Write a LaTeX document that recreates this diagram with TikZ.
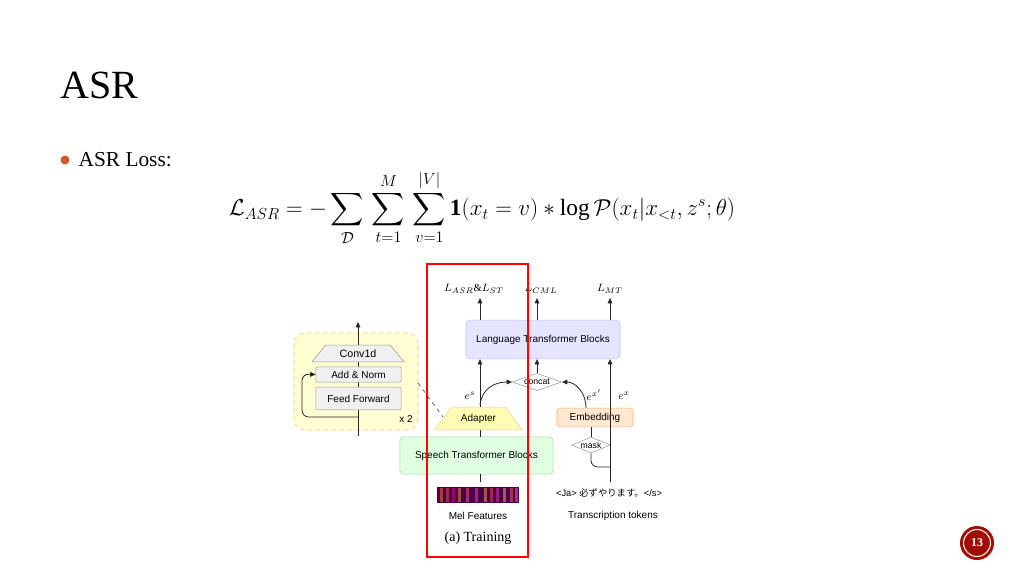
\documentclass[tikz,border=0pt]{standalone}
\usepackage{amsmath}
\usepackage{fontspec}
\setmainfont{Liberation Serif}
\newfontfamily\dsans{Liberation Sans}
\newfontfamily\cjk{Noto Sans CJK JP}
\usetikzlibrary{shapes.geometric,arrows.meta}
\begin{document}
\begin{tikzpicture}[x=0.75pt,y=-0.75pt,
  lbl/.style={font=\dsans\fontsize{7.5}{9}\selectfont},
  blk/.style={draw=gray!70,rounded corners=3pt,lbl,inner sep=0pt},
  gbox/.style={draw=gray!80,fill=gray!12,lbl,inner sep=0pt,rounded corners=1pt},
  ln/.style={draw=black!85,line width=0.6pt},
  arr/.style={ln,-{Triangle[length=4pt,width=3.5pt]}},
  dia/.style={diamond,draw=gray!80,fill=white,inner sep=0pt,aspect=2.8,font=\dsans\fontsize{6.5}{8}\selectfont},
  ml/.style={font=\fontsize{8}{10}\selectfont}]
\useasboundingbox (0,0) rectangle (1024,576);
\fill[white] (0,0) rectangle (1024,576);
% title
\node[anchor=west,font=\fontsize{30}{34}\selectfont] (title) at (56,85) {ASR};
\fill[brown!70!red] (65,160) circle (4.5);
\node[anchor=west,font=\fontsize{16}{19}\selectfont] (bul) at (74,160) {ASR Loss:};
\node[font=\fontsize{17.5}{21}\selectfont,inner sep=0pt] (eq) at (482,208) {$\displaystyle \mathcal{L}_{ASR}=-\sum_{\mathcal{D}}\,\sum_{t=1}^{M}\,\sum_{v=1}^{|V|}\mathbf{1}(x_t=v)*\log\mathcal{P}(x_t|x_{<t},z^s;\theta)$};
% yellow box
\draw[dashed,draw=orange!50,fill=yellow!18,rounded corners=8pt] (294,333) rectangle (418,430);
\node[lbl] (x2) at (406,419) {x 2};
\coordinate (ybot) at (358,436);
\coordinate (ytop) at (358,322);
\draw[arr] (ybot) -- (ytop);
\node[trapezium,draw=gray!80,fill=gray!12,trapezium left angle=45,trapezium right angle=45,minimum width=69pt,minimum height=12.5pt,inner sep=0pt,font=\dsans\fontsize{8}{9}\selectfont,trapezium stretches=true] (conv) at (358,353.5) {Conv1d};
\node[gbox,minimum width=64pt,minimum height=11.5pt] (an) at (358.5,374.5) {Add \& Norm};
\node[gbox,minimum width=64pt,minimum height=17pt] (ff) at (358.5,398.5) {Feed Forward};
\coordinate (lp1) at (358,417);
\draw[arr,rounded corners=5pt] (lp1) -- (302,417) -- (302,374) -- (an.west);
% language block
\node[blk,fill=blue!10,draw=blue!25,minimum width=115.5pt,minimum height=29pt] (ltb) at (543,339.5) {Language Transformer Blocks};
\node[blk,fill=green!12,draw=green!25!gray!50,minimum width=115pt,minimum height=28pt] (stb) at (476.5,455.5) {Speech Transformer Blocks};
\node[trapezium,draw=orange!40,fill=yellow!30,trapezium left angle=40,trapezium right angle=40,minimum width=66pt,minimum height=17pt,inner sep=0pt,lbl,trapezium stretches=true] (ad) at (478.5,418.5) {Adapter};
\node[blk,fill=orange!18,draw=orange!60,rounded corners=2pt,minimum width=57pt,minimum height=14pt] (emb) at (595,417.5) {Embedding};
\node[dia,minimum width=37pt,minimum height=13pt] (cc) at (537,382) {concat};
\node[dia,minimum width=25pt,minimum height=12pt] (mk) at (591,445) {mask};
% outputs
\coordinate (o1) at (480,298); \coordinate (o2) at (537,298); \coordinate (o3) at (610,298);
\draw[arr] (ltb.north -| o1) -- (o1);
\draw[arr] (ltb.north -| o2) -- (o2);
\draw[arr] (ltb.north -| o3) -- (o3);
\node[ml] (l1) at (474,289) {$L_{ASR}\&L_{ST}$};
\node[ml] (l2) at (541,289) {$L_{CML}$};
\node[ml] (l3) at (610,289) {$L_{MT}$};
% speech path
\coordinate (s0) at (480,482);
\draw[ln] (s0) -- (stb.south -| s0);
\draw[ln] (stb.north -| s0) -- (ad.south -| s0);
\draw[arr] (ad.north -| s0) -- (ltb.south -| s0);
\draw[arr] (480,405) .. controls (482,388) and (495,382) .. (cc.west);
\draw[arr] (emb.north -| 586,0) .. controls (586,392) and (575,382) .. (cc.east);
\draw[arr] (cc.north) -- (ltb.south -| cc.north);
\node[ml] (es) at (470,396) {$e^{s}$};
\node[ml] (ex1) at (594,395) {$e^{x'}$};
\node[ml] (ex) at (624,396) {$e^{x}$};
% text path
\coordinate (t0) at (610,482);
\draw[arr] (t0) -- (ltb.south -| t0);
\draw[ln] (mk.north) -- (emb.south -| mk.north);
\draw[ln,rounded corners=5pt] (mk.south) -- (591,467) -- (t0 |- 0,467);
% spectrogram
\fill[violet!60!black] (437,487) rectangle (519,503);
\foreach \xx/\cc in {440/orange,446/red!70,452/magenta,458/orange!80,466/red!60,475/magenta!70,484/orange!70,490/red!70,496/magenta!80,503/orange!60,510/red!60,515/magenta!60}
  \fill[\cc,opacity=0.5] (\xx,488) rectangle (\xx+2.5,502);
\node[lbl] (melt) at (478,516) {Mel Features};
\node[font=\fontsize{10.5}{12}\selectfont] (tr) at (478,538) {(a) Training};
\node[font=\dsans\fontsize{7}{8}\selectfont] (tok) at (609,493) {<Ja> {\cjk 必ずやります。}</s>};
\node[lbl] (tokt) at (613,516) {Transcription tokens};
% dashed link
\draw[dashed,gray!60!black,line width=0.5pt] (418,383) -- (443,417);
% red rectangle
\draw[red,line width=1.5pt] (427,264) rectangle (528,557);
% page number
\fill[red!60!black!90!orange] (977,543) circle (17);
\draw[white,line width=0.8pt] (977,543) circle (13.5);
\node[text=white,font=\bfseries\fontsize{9}{10}\selectfont] (pg) at (977,543) {13};
\end{tikzpicture}
\end{document}
